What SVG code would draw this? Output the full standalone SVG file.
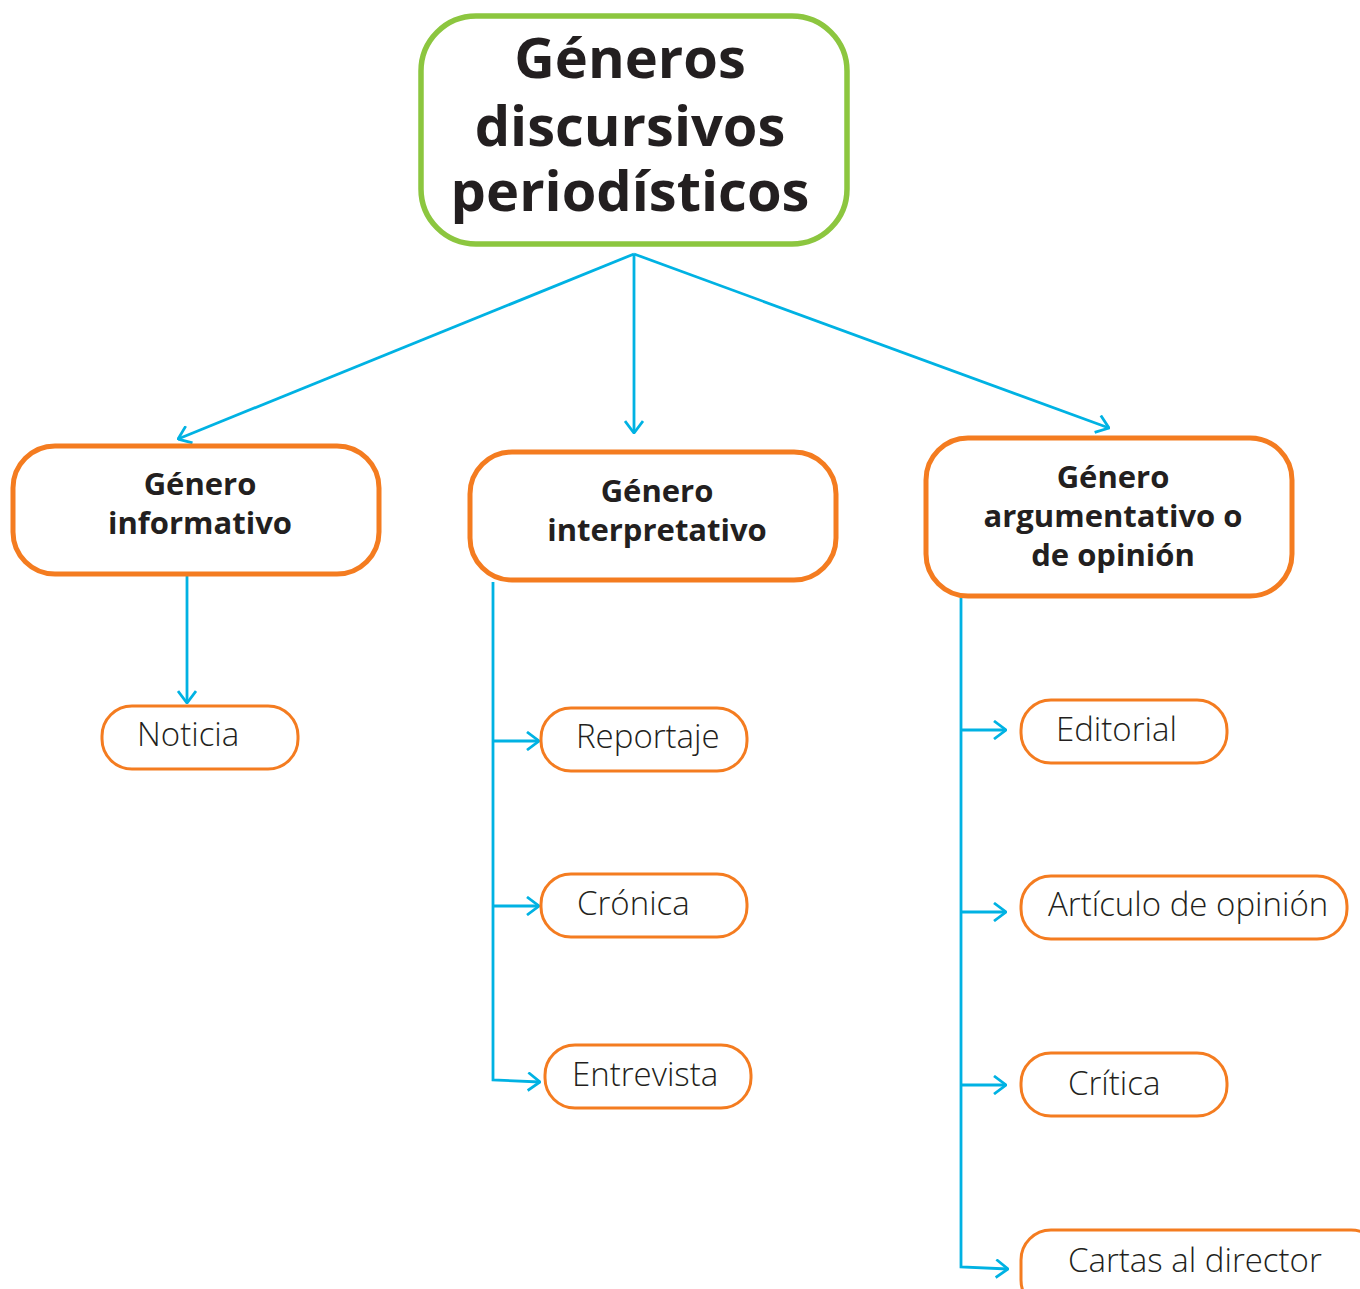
<svg xmlns="http://www.w3.org/2000/svg" width="1360" height="1289" viewBox="0 0 1360 1289">
<style>
.root{fill:#fff;stroke:#8cc63f;stroke-width:5.5}
.cat{fill:#fff;stroke:#f47c20;stroke-width:5}
.leaf{fill:#fff;stroke:#f47c20;stroke-width:3}
.t1{font-family:"Open Sans","Noto Sans",sans-serif;font-weight:bold;font-size:56px;fill:#231f20;text-anchor:middle}
.t2{font-family:"Open Sans","Noto Sans",sans-serif;font-weight:bold;font-size:31px;fill:#231f20;text-anchor:middle}
.t3{font-family:"Open Sans","Noto Sans",sans-serif;font-weight:300;font-size:33px;fill:#231f20}
.c{fill:none;stroke:#00b2e3;stroke-width:2.8}
</style>
<defs>
<marker id="arr" viewBox="0 0 14 20" refX="13" refY="10" markerWidth="14" markerHeight="20" markerUnits="userSpaceOnUse" orient="auto">
<path d="M1,1 L13,10 L1,19" fill="none" stroke="#00b2e3" stroke-width="2.8"/>
</marker>
</defs>
<g id="connectors">
<line class="c" x1="634" y1="254" x2="178" y2="439" marker-end="url(#arr)"/>
<line class="c" x1="634" y1="254" x2="634" y2="433" marker-end="url(#arr)"/>
<line class="c" x1="634" y1="254" x2="1109" y2="428" marker-end="url(#arr)"/>
<line class="c" x1="187" y1="576" x2="187" y2="703" marker-end="url(#arr)"/>
<polyline class="c" points="493,582 493,1080 540,1082" marker-end="url(#arr)"/>
<line class="c" x1="493" y1="741" x2="539" y2="741" marker-end="url(#arr)"/>
<line class="c" x1="493" y1="906" x2="539" y2="906" marker-end="url(#arr)"/>
<polyline class="c" points="961,598 961,1267 1008,1269" marker-end="url(#arr)"/>
<line class="c" x1="961" y1="730" x2="1006" y2="730" marker-end="url(#arr)"/>
<line class="c" x1="961" y1="912" x2="1006" y2="912" marker-end="url(#arr)"/>
<line class="c" x1="961" y1="1085" x2="1006" y2="1085" marker-end="url(#arr)"/>
</g>
<g id="root">
<rect class="root" x="421" y="16" width="426" height="228" rx="55"/>
<text class="t1" x="630" y="78">Géneros</text>
<text class="t1" x="630" y="146">discursivos</text>
<text class="t1" x="630" y="211">periodísticos</text>
</g>
<g id="informativo">
<rect class="cat" x="13" y="446" width="366" height="128" rx="42"/>
<text class="t2" x="200" y="495">Género</text>
<text class="t2" x="200" y="534">informativo</text>
</g>
<g id="interpretativo">
<rect class="cat" x="470" y="452" width="366" height="128" rx="42"/>
<text class="t2" x="657" y="502">Género</text>
<text class="t2" x="657" y="541">interpretativo</text>
</g>
<g id="argumentativo">
<rect class="cat" x="926" y="438" width="366" height="158" rx="42"/>
<text class="t2" x="1113" y="488">Género</text>
<text class="t2" x="1113" y="527">argumentativo o</text>
<text class="t2" x="1113" y="566">de opinión</text>
</g>
<g id="noticia">
<rect class="leaf" x="102" y="706" width="196" height="63" rx="30"/>
<text class="t3" x="137" y="746">Noticia</text>
</g>
<g id="reportaje">
<rect class="leaf" x="541" y="708" width="206" height="63" rx="30"/>
<text class="t3" x="576" y="748">Reportaje</text>
</g>
<g id="cronica">
<rect class="leaf" x="541" y="874" width="206" height="63" rx="30"/>
<text class="t3" x="577" y="915">Crónica</text>
</g>
<g id="entrevista">
<rect class="leaf" x="545" y="1045" width="206" height="63" rx="30"/>
<text class="t3" x="572" y="1086">Entrevista</text>
</g>
<g id="editorial">
<rect class="leaf" x="1021" y="700" width="206" height="63" rx="30"/>
<text class="t3" x="1056" y="741">Editorial</text>
</g>
<g id="articulo">
<rect class="leaf" x="1021" y="876" width="326" height="63" rx="30"/>
<text class="t3" x="1048" y="916">Artículo de opinión</text>
</g>
<g id="critica">
<rect class="leaf" x="1021" y="1053" width="206" height="63" rx="30"/>
<text class="t3" x="1068" y="1095">Crítica</text>
</g>
<g id="cartas">
<rect class="leaf" x="1021" y="1230" width="360" height="80" rx="30"/>
<text class="t3" x="1068" y="1272">Cartas al director</text>
</g>
</svg>
